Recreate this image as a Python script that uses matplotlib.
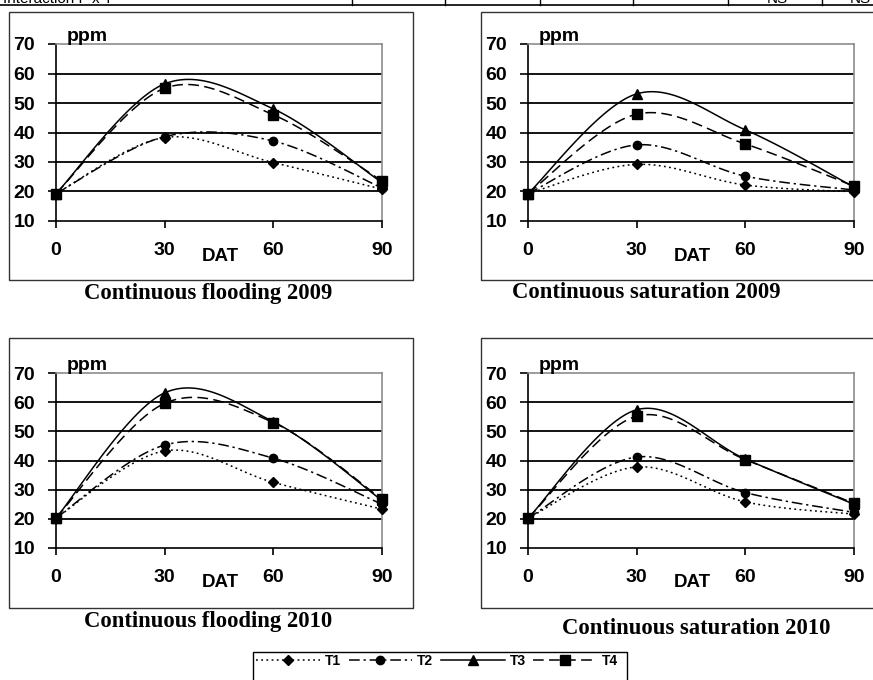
import numpy as np
import matplotlib
matplotlib.use("Agg")
import matplotlib.pyplot as plt
from matplotlib.patches import Rectangle
from matplotlib.lines import Line2D

# days after transplanting
days = [0, 30, 60, 90]
treatments = ["T1", "T2", "T3", "T4"]

# ppm values
flood09_t1 = [19.3, 38.3, 29.8, 20.8]
flood09_t2 = [19.3, 38.6, 37.1, 21.2]
flood09_t3 = [19.3, 56.5, 48.0, 23.0]
flood09_t4 = [19.3, 55.0, 46.0, 23.6]

sat09_t1 = [19.3, 29.2, 22.2, 19.9]
sat09_t2 = [19.3, 35.8, 25.2, 20.5]
sat09_t3 = [19.3, 53.1, 40.9, 21.5]
sat09_t4 = [19.3, 46.2, 36.1, 21.8]

flood10_t1 = [20.3, 43.3, 32.5, 23.3]
flood10_t2 = [20.3, 45.3, 40.8, 25.0]
flood10_t3 = [20.3, 63.2, 53.3, 26.3]
flood10_t4 = [20.3, 59.6, 53.0, 26.7]

sat10_t1 = [20.2, 37.8, 25.8, 21.6]
sat10_t2 = [20.2, 41.2, 29.0, 22.2]
sat10_t3 = [20.2, 57.4, 40.5, 25.0]
sat10_t4 = [20.2, 55.2, 40.3, 25.3]

panel_titles = ["Continuous flooding 2009", "Continuous saturation 2009",
                "Continuous flooding 2010", "Continuous saturation 2010"]
yticks = [10, 20, 30, 40, 50, 60, 70]

W, H = 873, 680
plt.rcParams['font.family'] = ['Liberation Sans', 'DejaVu Sans']
plt.rcParams['font.weight'] = 'bold'

styles = [dict(ls=(0, (1.2, 2.2)), marker='D', ms=5.5),
          dict(ls=(0, (7, 2.5, 1.5, 2.5)), marker='o', ms=6),
          dict(ls='-', marker='^', ms=7.5),
          dict(ls=(0, (7, 3.5)), marker='s', ms=7)]


def smooth(x, y, n=40):
    # excel-like smoothed line (catmull-rom bezier)
    p = np.column_stack([x, y]).astype(float)
    out = []
    for i in range(len(p) - 1):
        p0 = p[i - 1] if i > 0 else p[i]
        p1, p2 = p[i], p[i + 1]
        p3 = p[i + 2] if i + 2 < len(p) else p[i + 1]
        c1 = p1 + (p2 - p0) / 6
        c2 = p2 - (p3 - p1) / 6
        t = np.linspace(0, 1, n, endpoint=False)[:, None]
        out.append((1 - t)**3 * p1 + 3 * (1 - t)**2 * t * c1
                   + 3 * (1 - t) * t**2 * c2 + t**3 * p2)
    out.append(p[-1:])
    out = np.vstack(out)
    return out[:, 0], out[:, 1], [i * n for i in range(len(p))]


def rect(l, t, r, b):
    return [l / W, 1 - b / H, (r - l) / W, (b - t) / H]


fig = plt.figure(figsize=(8.73, 6.8), dpi=100)

# fragment of the table above the figure
fig.add_artist(Line2D([0, 1], [1 - 5 / H] * 2, color='black', lw=1.2))
for xv in [352, 445, 540, 633, 728, 822]:
    fig.add_artist(Line2D([xv / W] * 2, [1 - 5 / H, 1], color='black', lw=1))
fig.text(3 / W, 1 - 3 / H, "Interaction F x T", fontsize=11, weight='normal',
         va='baseline')
fig.text(777 / W, 1 - 3 / H, "NS", fontsize=11, weight='normal', va='baseline', ha='center')
fig.text(850 / W, 1 - 3 / H, "NS", fontsize=11, weight='normal', va='baseline', ha='left')

panels = [
    ([flood09_t1, flood09_t2, flood09_t3, flood09_t4], (56, 44, 382, 221), (9, 12, 413, 280), (208, 293)),
    ([sat09_t1, sat09_t2, sat09_t3, sat09_t4], (528, 44, 854, 221), (481, 12, 880, 280), (646, 293)),
    ([flood10_t1, flood10_t2, flood10_t3, flood10_t4], (56, 373, 382, 548), (9, 338, 413, 608), (208, 622)),
    ([sat10_t1, sat10_t2, sat10_t3, sat10_t4], (528, 373, 854, 548), (481, 338, 880, 608), (696, 628)),
]

handles = []
for k, (series, area, box, tpos) in enumerate(panels):
    l, t, r, b = box
    fig.add_artist(Rectangle((l / W, 1 - b / H), (r - l) / W, (b - t) / H,
                             transform=fig.transFigure, fill=False,
                             edgecolor='#333333', lw=1))
    ax = fig.add_axes(rect(*area))
    for yv in yticks[1:-1]:
        ax.axhline(yv, color='black', lw=1.3, zorder=1)
    for vals, st in zip(series, styles):
        sx, sy, idx = smooth(days, vals)
        h, = ax.plot(sx, sy, color='black', lw=1.1, ls=st['ls'], marker=st['marker'],
                     ms=st['ms'], markevery=idx, mfc='black', mec='black', zorder=3,
                     clip_on=False)
        if k == 0:
            handles.append(h)
    ax.set_xlim(0, 90)
    ax.set_ylim(10, 70)
    ax.set_xticks(days)
    ax.set_yticks(yticks)
    ax.tick_params(axis='y', length=6, width=1.2, pad=9, labelsize=14)
    ax.tick_params(axis='x', length=5, width=1.2, pad=10, labelsize=14)
    for side in ['top', 'right']:
        ax.spines[side].set_color('#8c8c8c')
        ax.spines[side].set_linewidth(1.2)
    for side in ['left', 'bottom']:
        ax.spines[side].set_color('black')
        ax.spines[side].set_linewidth(1.2)
    ax.text(0.034, 0.995, "ppm", transform=ax.transAxes, fontsize=14, va='bottom')
    ax.text(0.503, -0.15, "DAT", transform=ax.transAxes, fontsize=13.5,
            ha='center', va='top')
    fig.text(tpos[0] / W, 1 - tpos[1] / H, panel_titles[k],
             family=['Liberation Serif', 'DejaVu Serif'], fontsize=16.3,
             weight='bold', ha='center', va='center')

# legend
fig.add_artist(Rectangle((253 / W, 1 - 700 / H), (627 - 253) / W, 48 / H,
                         transform=fig.transFigure, fill=False,
                         edgecolor='black', lw=1))
fig.legend(handles, treatments, loc='center left', bbox_to_anchor=(256 / W, 1 - 661 / H),
           ncol=4, frameon=False, prop={'size': 10, 'weight': 'bold'},
           handlelength=4.6, handletextpad=0.35, columnspacing=0.55,
           borderaxespad=0, borderpad=0)

fig.savefig("out.png", dpi=100)
